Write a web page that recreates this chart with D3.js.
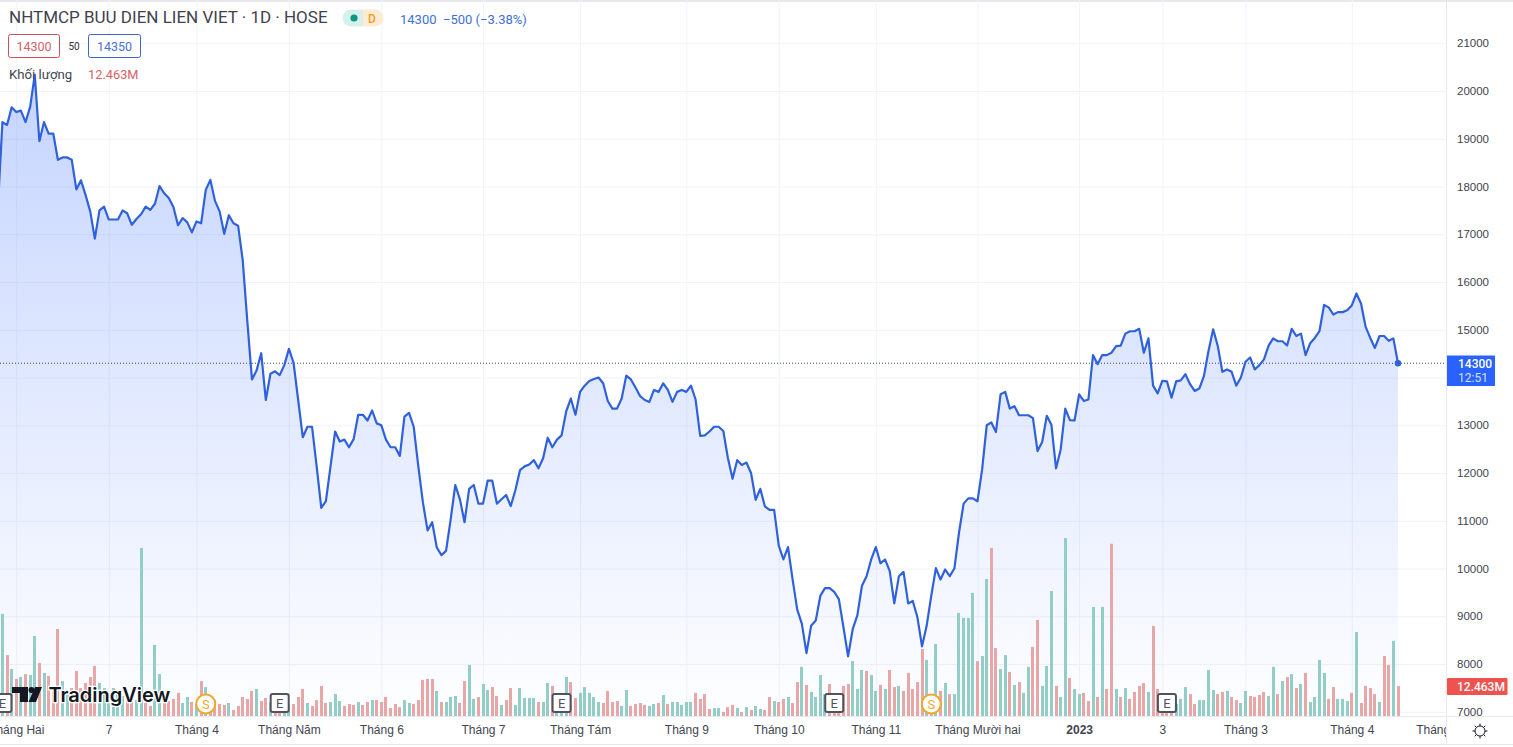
<!DOCTYPE html>
<html>
<head>
<meta charset="utf-8">
<title>NHTMCP BUU DIEN LIEN VIET</title>
<script src="https://cdn.jsdelivr.net/npm/d3@7"></script>
<style>
  html, body { margin: 0; padding: 0; background: #fff; overflow: hidden; }
  svg { display: block; font-family: Roboto, "Liberation Sans", sans-serif; }
  .axis path, .axis line { display: none; }
  .grid path { display: none; }
  .grid line { stroke: #f0f3fa; stroke-width: 1; }
</style>
</head>
<body>
<div id="chart"></div>
<script>
// Closing price per session
const closes = [
  17550,
  19350,19290,19660,19560,19590,19350,19670,20340,18950,19350,
  19110,19110,18560,18610,18610,18560,17940,18130,17820,17480,
  16910,17500,17580,17310,17310,17310,17500,17440,17200,17320,
  17420,17580,17510,17640,18010,17860,17760,17570,17190,17340,
  17250,17040,17270,17230,17930,18140,17700,17480,17010,17400,
  17230,17180,16460,15170,13960,14150,14510,13530,14080,14130,
  14050,14260,14600,14310,13530,12750,12970,12970,12140,11270,
  11410,12140,12870,12660,12700,12540,12710,13220,13220,13100,
  13310,13040,13000,12700,12540,12540,12360,13180,13260,12970,
  12140,11380,10800,10970,10440,10280,10370,11030,11750,11450,
  10970,11670,11750,11360,11360,11840,11840,11360,11450,11540,
  11310,11640,12060,12140,12180,12270,12100,12310,12740,12540,
  12700,12790,13290,13560,13220,13700,13830,13930,13970,14000,
  13880,13510,13350,13350,13560,14040,13960,13790,13610,13530,
  13490,13740,13700,13880,13740,13490,13700,13740,13700,13830,
  13540,12780,12790,12870,12970,12970,12880,12310,11880,12270,
  12170,12220,12000,11440,11670,11300,11230,11230,10480,10190,
  10450,9770,9140,8840,8230,8800,8910,9430,9590,9590,
  9510,9360,8770,8160,8730,9020,9640,9840,10190,10450,
  10110,10190,9950,9270,9840,9930,9270,9320,8980,8370,
  8800,9430,10010,9770,9980,9840,10000,10750,11360,11470,
  11470,11410,12070,13000,13060,12860,13650,13700,13350,13400,
  13210,13210,13210,13150,12460,12650,13200,13010,12100,12490,
  13350,13110,13100,13650,13510,13540,14470,14280,14470,14470,
  14520,14660,14670,14920,14970,14970,15020,14520,14820,13830,
  13670,13930,13920,13580,13920,13940,14070,13860,13720,13770,
  14030,14560,15010,14660,14120,14170,14120,13830,14000,14330,
  14420,14170,14260,14380,14670,14820,14760,14760,14670,15020,
  14870,14920,14470,14720,14830,14970,15520,15470,15320,15370,
  15370,15410,15510,15760,15550,15060,14830,14620,14870,14870,
  14770,14820,14300
];

// Volume per session, in millions
const volumes = [
  5.0,
  42.4,25.3,19.5,15.4,16.2,17.4,17.0,33.2,22.0,17.9,
  16.6,10.0,36.1,14.5,10.8,11.6,18.7,11.6,13.7,16.2,
  20.8,13.7,11.6,9.1,11.6,10.8,8.3,8.3,8.3,6.6,
  69.8,5.4,4.2,29.5,17.4,5.4,6.2,7.1,9.6,5.4,
  7.9,5.8,5.0,14.5,12.0,5.0,6.6,5.0,4.6,5.4,
  2.5,4.2,7.9,7.1,10.4,11.2,6.2,7.5,5.8,5.0,
  5.0,5.0,5.0,5.0,7.9,11.2,5.4,4.2,6.6,12.5,
  5.4,5.8,9.1,6.2,4.2,5.0,4.6,5.8,4.6,5.8,
  6.6,6.6,5.8,7.9,3.3,5.0,3.7,6.6,5.4,5.0,
  6.6,15.0,15.4,15.4,10.4,5.8,5.8,7.9,8.3,5.4,
  14.5,21.2,7.1,7.9,13.3,10.8,12.0,8.3,4.6,6.6,
  11.6,4.6,11.6,7.5,7.5,7.5,5.8,5.8,13.7,12.5,
  8.3,6.2,16.2,14.1,7.5,9.6,12.0,9.6,7.9,5.8,
  5.4,10.4,5.8,6.2,4.2,10.8,4.2,5.0,5.4,4.6,
  4.2,5.0,5.4,8.7,5.0,5.8,5.8,4.6,5.8,5.8,
  9.6,7.1,9.1,2.9,3.3,3.3,1.7,3.7,4.6,3.3,
  1.7,3.7,2.5,4.2,2.9,2.5,7.9,6.2,5.8,7.1,
  7.9,5.4,14.1,20.4,12.9,10.0,7.9,17.0,9.1,13.3,
  8.3,7.5,12.5,13.3,22.8,11.2,19.1,18.7,17.0,10.4,
  12.9,11.2,19.1,12.0,12.5,10.4,17.9,11.2,14.1,27.8,
  23.3,8.3,29.9,10.4,13.7,9.1,9.1,42.8,40.7,40.7,
  51.1,22.8,24.9,56.9,69.8,28.2,19.5,25.3,18.3,12.9,
  14.1,9.6,20.4,28.7,39.9,12.5,20.8,51.9,12.5,7.9,
  73.9,15.8,11.2,9.1,9.6,6.2,45.3,7.9,45.3,11.2,
  71.5,11.2,7.9,11.6,7.1,10.0,12.5,13.7,10.0,37.4,
  11.2,4.2,4.2,4.2,5.0,7.1,12.0,9.1,5.0,6.6,
  6.6,19.1,10.8,9.1,10.0,10.4,7.9,6.6,5.4,10.4,
  8.3,7.9,8.7,10.0,8.3,20.4,9.1,14.5,16.2,17.4,
  11.6,13.3,17.9,5.8,7.9,23.3,17.9,7.1,12.0,7.1,
  7.1,6.2,9.6,34.9,5.4,12.5,11.6,9.1,5.8,24.9,
  21.2,31.2,12.463
];

// 1 = up session (green volume bar), 0 = down session (red)
const volumeUp = [
  1,
  1,0,1,0,1,0,1,1,0,1,
  0,0,0,1,1,0,0,0,0,0,
  0,1,1,1,1,1,1,0,0,1,
  1,0,0,1,1,0,0,0,0,1,
  1,0,1,0,1,0,0,0,0,1,
  0,0,0,0,0,1,0,0,1,0,
  0,1,1,0,0,0,1,0,0,0,
  0,1,1,1,0,0,0,1,0,0,
  1,0,0,0,0,0,0,1,1,0,
  0,0,0,0,1,0,1,1,1,0,
  0,1,1,0,1,1,0,0,1,0,
  0,1,1,1,1,1,0,1,1,0,
  1,1,1,0,0,1,1,1,1,1,
  0,0,0,0,1,1,0,0,0,0,
  1,1,0,1,0,1,1,1,1,1,
  0,0,0,0,1,1,0,0,0,1,
  0,1,0,1,1,0,0,1,0,0,
  1,0,0,1,0,1,1,1,1,0,
  0,0,0,0,1,1,1,0,1,1,
  0,1,0,0,1,0,0,0,0,0,
  1,0,1,0,1,0,1,1,1,1,
  1,0,1,1,0,0,1,1,0,1,
  0,1,1,0,0,1,1,1,0,1,
  1,0,1,1,0,0,1,0,1,0,
  0,1,0,1,0,0,0,0,1,0,
  0,0,0,0,1,1,1,0,0,1,
  1,1,1,0,0,1,0,0,1,1,
  0,0,0,0,1,1,0,1,0,1,
  0,1,0,1,1,1,1,0,0,1,
  1,1,0,1,0,0,0,0,1,0,
  0,1,0
];

const priceTicks = d3.range(7000, 21001, 1000);
const timeTickBars = [4, 24, 43, 63, 83, 105, 126, 149, 169, 190, 212, 234, 252, 270, 293, 313.6];
const timeTickLabels = ["Tháng Hai", "7", "Tháng 4", "Tháng Năm", "Tháng 6", "Tháng 7", "Tháng Tám", "Tháng 9",
  "Tháng 10", "Tháng 11", "Tháng Mười hai", "2023", "3", "Tháng 3", "Tháng 4", "Tháng Năm"];
const earningsBars = [1, 61, 122, 181, 253];
const splitBars = [45, 202];

const width = 1513, height = 747;
const paneRight = 1446, paneBottom = 716;
const lineColor = "#2f61dc", blue = "#2962ff", red = "#ef5350";
const textColor = "#42454f";

const x = d3.scaleLinear().domain([0, closes.length - 1]).range([-2.2, 1398]);
const y = d3.scaleLinear().domain([7000, 21000]).range([711.8, 43.3]);
const yVol = d3.scaleLinear().domain([0, 73.9]).range([paneBottom, 538]);

const svg = d3.select("#chart").append("svg")
    .attr("width", width)
    .attr("height", height);

const defs = svg.append("defs");
defs.append("clipPath").attr("id", "pane")
    .append("rect").attr("width", paneRight).attr("height", paneBottom);
defs.append("clipPath").attr("id", "timeClip")
    .append("rect").attr("width", paneRight).attr("height", height);
const grad = defs.append("linearGradient").attr("id", "areaFill")
    .attr("gradientUnits", "userSpaceOnUse")
    .attr("x1", 0).attr("x2", 0).attr("y1", 75).attr("y2", paneBottom);
grad.append("stop").attr("offset", 0).attr("stop-color", blue).attr("stop-opacity", 0.27);
grad.append("stop").attr("offset", 1).attr("stop-color", blue).attr("stop-opacity", 0.005);

// frame
svg.append("rect").attr("width", width).attr("height", 2).attr("fill", "#e6e8ee");
svg.append("rect").attr("y", 744).attr("width", width).attr("height", 1).attr("fill", "#e6e8ee");

const pane = svg.append("g").attr("clip-path", "url(#pane)");

// grid
pane.append("g").attr("class", "grid")
    .call(d3.axisLeft(y).tickValues(priceTicks).tickSize(-paneRight).tickFormat(""));
pane.append("g").attr("class", "grid")
    .attr("transform", `translate(0,${paneBottom})`)
    .call(d3.axisBottom(x).tickValues(timeTickBars).tickSize(-paneBottom).tickFormat(""));

// area under the line
const area = d3.area().x((d, i) => x(i)).y0(paneBottom).y1(d => y(d));
pane.append("path").datum(closes).attr("d", area).attr("fill", "url(#areaFill)");

// volume bars
pane.append("g").selectAll("rect")
    .data(volumes)
    .enter().append("rect")
    .attr("x", (d, i) => Math.round(x(i) - 1.5))
    .attr("y", d => yVol(d))
    .attr("width", 3)
    .attr("height", d => paneBottom - yVol(d))
    .attr("fill", (d, i) => volumeUp[i] ? "#92cdc7" : "#e8a6a6");

// last price line
pane.append("line")
    .attr("x1", 0).attr("x2", paneRight)
    .attr("y1", y(14300)).attr("y2", y(14300))
    .attr("stroke", "#3c4a66").attr("stroke-width", 1).attr("stroke-dasharray", "1,2");

// price line
const line = d3.line().x((d, i) => x(i)).y(d => y(d));
pane.append("path").datum(closes)
    .attr("d", line)
    .attr("fill", "none")
    .attr("stroke", lineColor)
    .attr("stroke-width", 2.2)
    .attr("stroke-linejoin", "round");
pane.append("circle")
    .attr("cx", x(closes.length - 1)).attr("cy", y(14300)).attr("r", 3.2)
    .attr("fill", lineColor);

// TradingView logo
const logo = pane.append("g").attr("fill", "#131722");
logo.append("path").attr("d", "M12 687H28V702H20V693H12Z");
logo.append("circle").attr("cx", 31.5).attr("cy", 690).attr("r", 3);
logo.append("path").attr("d", "M35 687H42L36 702H28.5Z");
logo.append("text")
    .attr("x", 48.5).attr("y", 702)
    .attr("font-family", "Inter, Roboto, sans-serif")
    .attr("font-size", 20).attr("font-weight", 600)
    .attr("stroke", "#fff").attr("stroke-width", 2.5).attr("paint-order", "stroke")
    .text("TradingView");

// earnings markers
const eMark = pane.append("g").selectAll("g")
    .data(earningsBars)
    .enter().append("g")
    .attr("transform", d => `translate(${x(d)},703)`);
eMark.append("rect")
    .attr("x", -9).attr("y", -9).attr("width", 18).attr("height", 18).attr("rx", 2)
    .attr("fill", "#fff").attr("stroke", "#50535e").attr("stroke-width", 2);
eMark.append("text")
    .attr("text-anchor", "middle").attr("y", 4.5)
    .attr("font-size", 13).attr("fill", "#50535e")
    .text("E");

// split markers
const sMark = pane.append("g").selectAll("g")
    .data(splitBars)
    .enter().append("g")
    .attr("transform", d => `translate(${x(d)},704)`);
sMark.append("circle").attr("r", 9.5)
    .attr("fill", "#fff").attr("stroke", "#f0a92d").attr("stroke-width", 2);
sMark.append("text")
    .attr("text-anchor", "middle").attr("y", 4.5)
    .attr("font-size", 13).attr("fill", "#f0a92d")
    .text("S");

// axis lines
svg.append("line").attr("x1", paneRight + 0.5).attr("x2", paneRight + 0.5)
    .attr("y1", 2).attr("y2", 744).attr("stroke", "#e8eaf0");
svg.append("line").attr("x1", 0).attr("x2", width)
    .attr("y1", paneBottom + 0.5).attr("y2", paneBottom + 0.5).attr("stroke", "#e8eaf0");

// price axis
const priceAxis = svg.append("g").attr("class", "axis")
    .attr("transform", `translate(${paneRight},0)`)
    .call(d3.axisRight(y).tickValues(priceTicks).tickSize(0).tickPadding(11).tickFormat(d3.format("d")));
priceAxis.selectAll("text").attr("font-size", 11.5).attr("fill", textColor).attr("font-family", "inherit");

// time axis
const timeAxis = svg.append("g").attr("class", "axis")
    .attr("clip-path", "url(#timeClip)")
    .append("g")
    .attr("transform", `translate(0,${paneBottom})`)
    .call(d3.axisBottom(x).tickValues(timeTickBars).tickSize(0).tickPadding(9)
      .tickFormat((d, i) => timeTickLabels[i]));
timeAxis.selectAll("text")
    .attr("font-size", 12).attr("fill", textColor).attr("font-family", "inherit")
    .attr("font-weight", d => d === 234 ? 700 : 400);

// last price label
svg.append("rect").attr("x", 1447).attr("y", 355.5).attr("width", 48).attr("height", 30.5).attr("fill", blue);
svg.append("text").attr("x", 1458).attr("y", 367.5)
    .attr("font-size", 12).attr("font-weight", 500).attr("fill", "#fff").text("14300");
svg.append("text").attr("x", 1458).attr("y", 382)
    .attr("font-size", 12).attr("fill", "#d6e0ff").text("12:51");

// last volume label
svg.append("rect").attr("x", 1447).attr("y", 678).attr("width", 60.5).attr("height", 17).attr("rx", 1).attr("fill", red);
svg.append("text").attr("x", 1457).attr("y", 691)
    .attr("font-size", 12).attr("font-weight", 500).attr("fill", "#fff").text("12.463M");

// settings icon
const gear = svg.append("g").attr("transform", "translate(1480,731)")
    .attr("stroke", "#131722").attr("fill", "none").attr("stroke-width", 1);
gear.append("circle").attr("r", 5);
d3.range(8).forEach(k => {
  const a = k * Math.PI / 4;
  gear.append("line")
    .attr("x1", 5 * Math.cos(a)).attr("y1", 5 * Math.sin(a))
    .attr("x2", 7.5 * Math.cos(a)).attr("y2", 7.5 * Math.sin(a));
});

// header
svg.append("text").attr("x", 9).attr("y", 23)
    .attr("font-size", 17).attr("fill", "#3f424c")
    .text("NHTMCP BUU DIEN LIEN VIET · 1D · HOSE");

svg.append("path").attr("d", "M351 9.5H363V26.5H351A8.5 8.5 0 0 1 351 9.5Z").attr("fill", "#d8f0ec");
svg.append("path").attr("d", "M363 9.5H375A8.5 8.5 0 0 1 375 26.5H363Z").attr("fill", "#fdecd2");
svg.append("circle").attr("cx", 354).attr("cy", 18).attr("r", 3.6).attr("fill", "#089981");
svg.append("text").attr("x", 372).attr("y", 22.5).attr("text-anchor", "middle")
    .attr("font-size", 12).attr("font-weight", 500).attr("fill", "#f09a2c").text("D");

svg.append("text").attr("x", 400).attr("y", 24)
    .attr("font-size", 13).attr("fill", "#3f6fd6")
    .attr("xml:space", "preserve")
    .text("14300  −500 (−3.38%)");

svg.append("rect").attr("x", 8.5).attr("y", 34.5).attr("width", 51).attr("height", 23).attr("rx", 2)
    .attr("fill", "#fff").attr("stroke", "#c9505a");
svg.append("text").attr("x", 34).attr("y", 50.5).attr("text-anchor", "middle")
    .attr("font-size", 12.5).attr("fill", "#d0636b").text("14300");
svg.append("text").attr("x", 74).attr("y", 49.5).attr("text-anchor", "middle")
    .attr("font-size", 10).attr("fill", "#333").text("50");
svg.append("rect").attr("x", 88.5).attr("y", 34.5).attr("width", 52).attr("height", 23).attr("rx", 2)
    .attr("fill", "#fff").attr("stroke", "#3a66c8");
svg.append("text").attr("x", 114.5).attr("y", 50.5).attr("text-anchor", "middle")
    .attr("font-size", 12.5).attr("fill", "#4672d4").text("14350");

svg.append("text").attr("x", 9).attr("y", 79)
    .attr("font-size", 13.2).attr("fill", "#42454f").text("Khối lượng");
svg.append("text").attr("x", 88).attr("y", 79)
    .attr("font-size", 12.8).attr("fill", "#dc6068").text("12.463M");
</script>
</body>
</html>
